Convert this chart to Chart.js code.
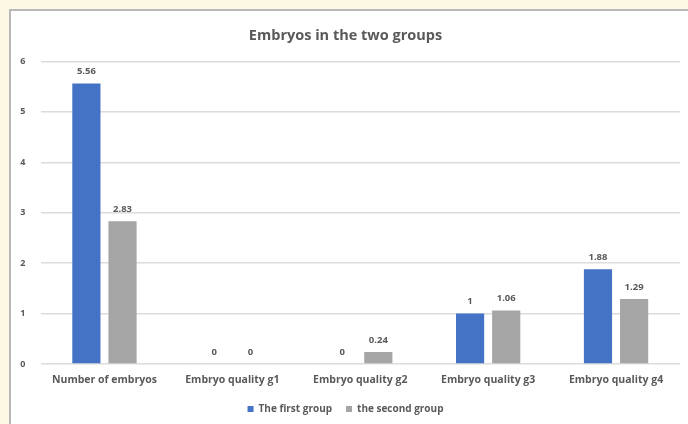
<!DOCTYPE html>
<html>
<head>
<meta charset="utf-8">
<script src="https://cdn.jsdelivr.net/npm/chart.js@4.4.1/dist/chart.umd.min.js"></script>
<style>
  html, body { margin: 0; padding: 0; }
  body { width: 688px; height: 424px; background: #fdf8e4; overflow: hidden; position: relative; }
  #frame {
    position: absolute; left: 9px; top: 9px; width: 677px; height: 413px;
    background: #ffffff; border-left: 2px solid #b8b8b8; border-top: 2px solid #b8b8b8;
  }
  #chart { display: block; }
</style>
</head>
<body>
<div id="frame"><canvas id="chart" width="677" height="413"></canvas></div>
<script>
// Data
const categories = ['Number of embryos', 'Embryo quality g1', 'Embryo quality g2', 'Embryo quality g3', 'Embryo quality g4'];
const firstGroup = [5.56, 0, 0, 1, 1.88];
const secondGroup = [2.83, 0, 0.24, 1.06, 1.29];
const seriesNames = ['The first group', 'the second group'];
const yTicks = [0, 1, 2, 3, 4, 5, 6];

const textColor = '#595959';
const fontFamily = '"Open Sans", sans-serif';

// draws the value above each bar (no datalabels plugin available)
const valueLabels = {
    id: 'valueLabels',
    afterDatasetsDraw(chart) {
        const ctx = chart.ctx;
        ctx.save();
        ctx.font = 'bold 9.5px ' + fontFamily;
        ctx.fillStyle = textColor;
        ctx.textAlign = 'center';
        ctx.textBaseline = 'middle';
        chart.data.datasets.forEach((ds, i) => {
            chart.getDatasetMeta(i).data.forEach((bar, j) => {
                ctx.fillText(String(ds.data[j]), bar.x, bar.y - 12);
            });
        });
        ctx.restore();
    }
};

const ctx = document.getElementById('chart').getContext('2d');
new Chart(ctx, {
    type: 'bar',
    data: {
        labels: categories,
        datasets: [
            { label: seriesNames[0], data: firstGroup, backgroundColor: '#4472c4' },
            { label: seriesNames[1], data: secondGroup, backgroundColor: '#a5a5a5' }
        ]
    },
    options: {
        responsive: false,
        animation: false,
        categoryPercentage: 0.565,
        barPercentage: 0.78,
        layout: { padding: { left: 0, right: 8, top: 0, bottom: 0 } },
        plugins: {
            title: {
                display: true,
                text: 'Embryos in the two groups',
                color: textColor,
                font: { family: fontFamily, size: 14.5, weight: 'bold' },
                padding: { top: 16, bottom: 17 }
            },
            legend: {
                position: 'bottom',
                labels: {
                    color: textColor,
                    font: { family: fontFamily, size: 10, weight: 'bold' },
                    usePointStyle: true,
                    pointStyle: 'rect',
                    boxWidth: 6,
                    boxHeight: 6,
                    padding: 14
                }
            },
            tooltip: { enabled: false }
        },
        scales: {
            x: {
                grid: { display: false },
                border: { display: false },
                ticks: {
                    color: textColor,
                    font: { family: fontFamily, size: 10.5, weight: 'bold' },
                    padding: 2,
                    maxRotation: 0
                },
                afterFit(scale) { scale.height = 26; }
            },
            y: {
                min: 0,
                max: 6,
                afterBuildTicks(scale) { scale.ticks = yTicks.map(v => ({ value: v })); },
                grid: { color: '#dcdcdc', lineWidth: 1.5, drawTicks: false },
                border: { display: false },
                ticks: {
                    color: textColor,
                    font: { family: fontFamily, size: 9, weight: 'bold' },
                    padding: 15
                },
                afterFit(scale) { scale.width = 29.5; }
            }
        }
    },
    plugins: [valueLabels]
});
</script>
</body>
</html>
